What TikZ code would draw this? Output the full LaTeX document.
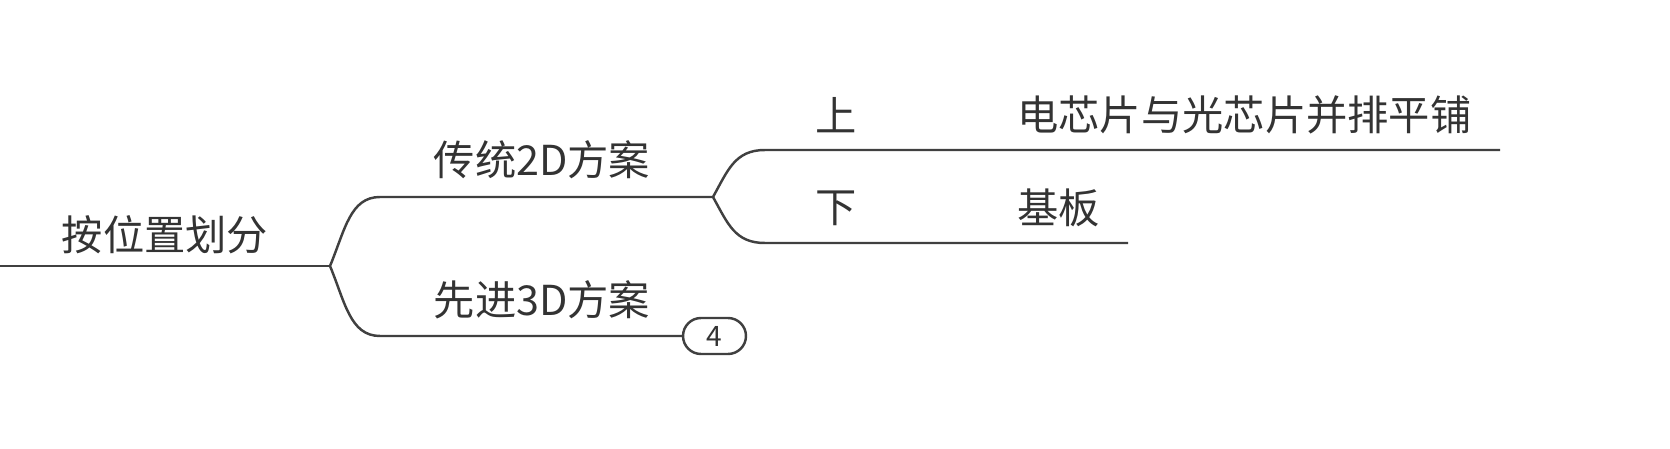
\documentclass[tikz,border=0pt]{standalone}
\usepackage{fontspec}
\newfontfamily\cjk{Noto Sans CJK SC}
\begin{document}
\begin{tikzpicture}[x=0.02cm,y=-0.02cm,
  ln/.style={draw=black!75,line width=1.4pt},
  lbl/.style={font=\cjk\fontsize{23.5}{28}\selectfont,text=black!80,inner sep=0pt},
  badge/.style={draw=black!75,line width=1.4pt,rounded corners=0.36cm,minimum width=1.26cm,minimum height=0.72cm,font=\cjk\fontsize{16}{19}\selectfont,text=black!80}]
\useasboundingbox (0,0) rectangle (1670,449);
\coordinate (r0) at (0,266);
\coordinate (r1) at (330,266);
\coordinate (a0) at (380,197);
\coordinate (a1) at (713,197);
\coordinate (b0) at (380,336);
\node[badge] (n4) at (714.5,336) {4};
\coordinate (c0) at (765,150);
\coordinate (c1) at (1500,150);
\coordinate (d0) at (765,243);
\coordinate (d1) at (1128,243);
\draw[ln] (r0) -- (r1);
\draw[ln] (r1) .. controls (345,230) and (350,197) .. (a0) -- (a1);
\draw[ln] (r1) .. controls (345,302) and (350,336) .. (b0) -- (n4.west);
\draw[ln] (a1) .. controls (728,170) and (735,150) .. (c0) -- (c1);
\draw[ln] (a1) .. controls (728,224) and (735,243) .. (d0) -- (d1);
\node[lbl] (t0) at (165,235) {按位置划分};
\node[lbl] (t1) at (542,160) {传统2D方案};
\node[lbl] (t2) at (542,300) {先进3D方案};
\node[lbl] (t3) at (836,115) {上};
\node[lbl] (t4) at (836,208) {下};
\node[lbl,anchor=west] (t5) at (1017,115) {电芯片与光芯片并排平铺};
\node[lbl,anchor=west] (t6) at (1017,208) {基板};
\end{tikzpicture}
\end{document}
